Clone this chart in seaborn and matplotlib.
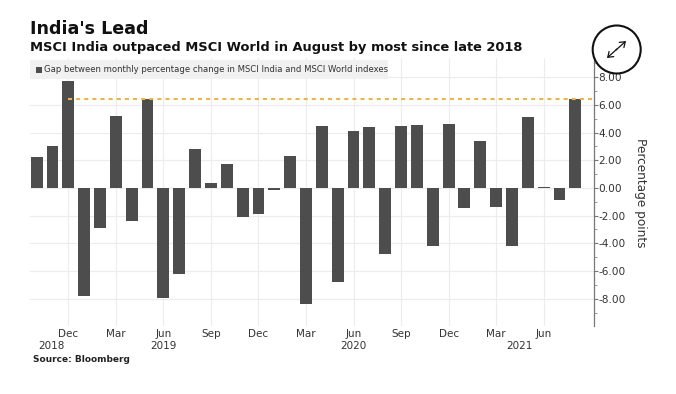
import matplotlib
matplotlib.use("Agg")
import matplotlib.pyplot as plt
import numpy as np
import pandas as pd
import seaborn as sns
from matplotlib.patches import Circle, FancyArrowPatch, Rectangle
from matplotlib.ticker import MultipleLocator

months = ["2018-10", "2018-11", "2018-12",
          "2019-01", "2019-02", "2019-03", "2019-04", "2019-05", "2019-06",
          "2019-07", "2019-08", "2019-09", "2019-10", "2019-11", "2019-12",
          "2020-01", "2020-02", "2020-03", "2020-04", "2020-05", "2020-06",
          "2020-07", "2020-08", "2020-09", "2020-10", "2020-11", "2020-12",
          "2021-01", "2021-02", "2021-03", "2021-04", "2021-05", "2021-06",
          "2021-07", "2021-08"]
gap = [2.2, 3.0, 7.75, -7.84, -2.93, 5.22, -2.4, 6.43, -7.92, -6.23, 2.79, 0.34,
       1.73, -2.07, -1.88, -0.15, 2.29, -8.37, 4.48, -6.78, 4.09, 4.4, -4.79, 4.45,
       4.55, -4.16, 4.6, -1.42, 3.42, -1.4, -4.16, 5.13, 0.1, -0.85, 6.45]

tick_months = ["2018-12", "2019-03", "2019-06", "2019-09", "2019-12", "2020-03",
               "2020-06", "2020-09", "2020-12", "2021-03", "2021-06"]
tick_labels = ["Dec", "Mar", "Jun", "Sep", "Dec", "Mar", "Jun", "Sep", "Dec", "Mar", "Jun"]
year_labels = ["2018", "2019", "2020", "2021"]
year_months = ["2018-11", "2019-06", "2020-06", "2021-04"]
y_ticks = [-8, -6, -4, -2, 0, 2, 4, 6, 8]

BAR = "#4d4d4d"
TEXT = "#333333"
W, H = 676, 394

sns.set_theme(style="white")
plt.rcParams["font.family"] = ["DejaVu Sans"]

df = pd.DataFrame({"month": months, "gap": gap})

fig = plt.figure(figsize=(W / 100, H / 100), dpi=100)
ax = fig.add_axes([30 / W, 1 - 325.7 / H, (594 - 30) / W, (325.7 - 58) / H])
sns.barplot(data=df, x="month", y="gap", color=BAR, saturation=1, width=0.75, linewidth=0,
            ax=ax, zorder=3)

ax.set_xlim(-0.42, 35.18)
ax.set_ylim(-9.95, 9.38)
ax.set_xlabel("")
ax.set_ylabel("")

ticks_x = [months.index(m) for m in tick_months]
ax.set_xticks(ticks_x, tick_labels)
ax.yaxis.tick_right()
ax.set_yticks(y_ticks, [f"{v:.2f}" for v in y_ticks])
ax.yaxis.set_minor_locator(MultipleLocator(1))
ax.tick_params(axis="y", which="major", length=3, width=0.8, color="#777777",
               labelsize=7.6, labelcolor=TEXT, pad=0.3)
ax.tick_params(axis="y", which="minor", length=2, width=0.7, color="#999999", right=True)
ax.tick_params(axis="x", length=0, labelsize=7.5, labelcolor=TEXT, pad=2.6)

ax.grid(True, which="major", color="#ececec", linewidth=0.8, zorder=0)
ax.set_axisbelow(True)
for side in ["top", "left", "bottom"]:
    ax.spines[side].set_visible(False)
ax.spines["right"].set_color("#777777")
ax.spines["right"].set_linewidth(0.9)

# dashed line at the latest reading
ax.plot([months.index("2018-12"), ax.get_xlim()[1]], [gap[-1], gap[-1]], color="#eab54a",
        linewidth=1.5, dashes=(1.95, 1.95), zorder=4)

# year row under the months
trans = ax.get_xaxis_transform()
for lab, m in zip(year_labels, year_months):
    ax.text(months.index(m) - (0.05 if lab == "2018" else 0) + (0.5 if lab == "2021" else 0),
            -0.076, lab, transform=trans, ha="center", va="center", fontsize=7.5, color=TEXT)

# legend strip
fig.patches.append(Rectangle((30 / W, 1 - 79 / H), 358 / W, 19 / H, transform=fig.transFigure,
                             facecolor="#f1f1f1", edgecolor="none", zorder=5))
fig.patches.append(Rectangle((35.5 / W, 1 - 73 / H), 6.5 / W, 6.5 / H, transform=fig.transFigure,
                             facecolor=BAR, edgecolor="none", zorder=6))
fig.text(44 / W, 1 - 70 / H, "Gap between monthly percentage change in MSCI India and MSCI World indexes",
         fontsize=6.1, color=TEXT, va="center", zorder=7)

fig.text(30 / W, 1 - 29.5 / H, "India's Lead", fontsize=12.65, fontweight="bold", color="#111111", va="center")
fig.text(30 / W, 1 - 48 / H, "MSCI India outpaced MSCI World in August by most since late 2018",
         fontsize=9.4, fontweight="bold", color="#111111", va="center")
fig.text(33 / W, 1 - 359 / H, "Source: Bloomberg", fontsize=6.45, fontweight="bold", color="#222222", va="center")
fig.text(641 / W, 1 - 193 / H, "Percentage points", fontsize=8.7, color=TEXT, rotation=270,
         ha="center", va="center")

# expand button in the corner
px = fig.add_axes([0, 0, 1, 1], facecolor="none", zorder=10)
px.set_xlim(0, W)
px.set_ylim(H, 0)
px.axis("off")
px.add_patch(Circle((616.7, 49.5), 24, facecolor="white", edgecolor="#111111", linewidth=1.5))
for a, b in [((616, 50), (626, 41)), ((617, 49), (607, 58))]:
    px.add_patch(FancyArrowPatch(a, b, arrowstyle="->,head_length=3.5,head_width=2.5",
                                 color="#111111", linewidth=0.9, mutation_scale=1, shrinkA=0, shrinkB=0))

fig.savefig("out.png", dpi=100)
